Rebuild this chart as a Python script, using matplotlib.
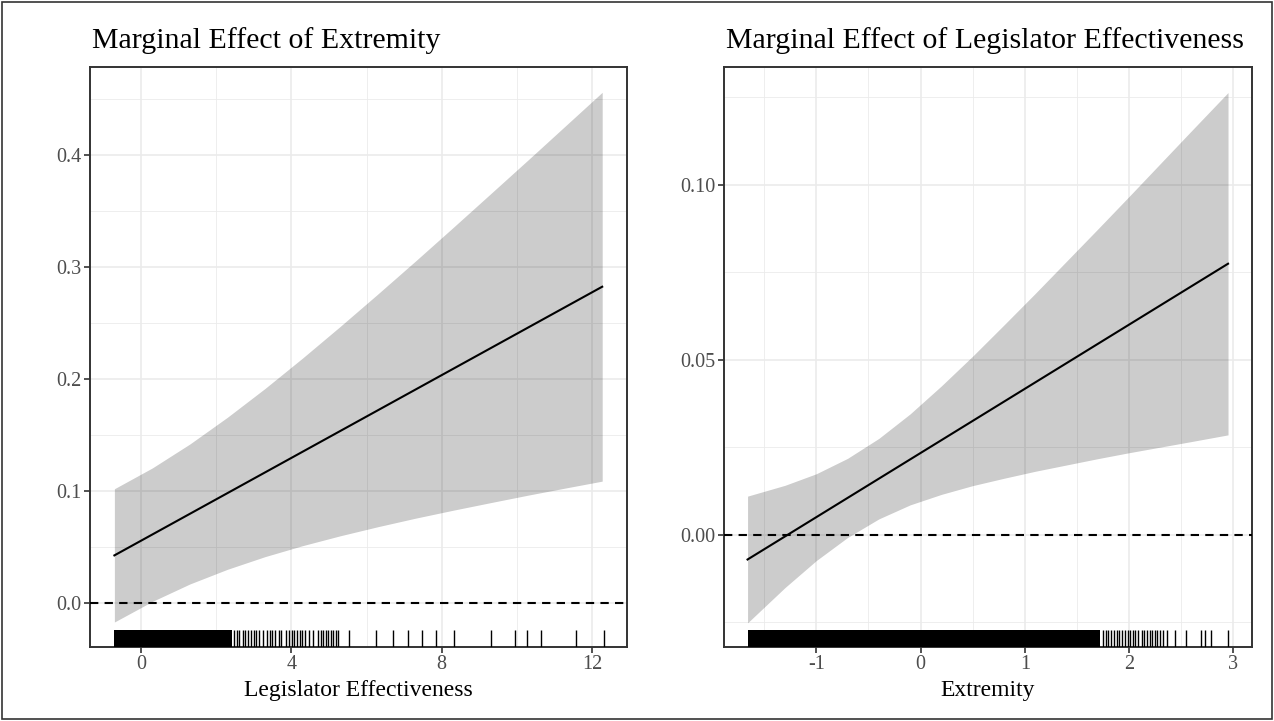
"""
Marginal effects plots (two panels) with rug of observed values
"""

import numpy as np
import matplotlib
matplotlib.use('Agg')
import matplotlib.pyplot as plt
from matplotlib.patches import Rectangle
from matplotlib.ticker import MultipleLocator

plt.rcParams['font.family'] = ['Liberation Serif', 'DejaVu Serif']

# ---- left panel: marginal effect of extremity over legislator effectiveness
le_x = [-0.71, 0.3, 1.3, 2.3, 3.3, 4.3, 5.3, 6.3, 7.3, 8.3, 9.3, 10.3, 11.3, 12.27]
le_upper = [0.102, 0.1206, 0.142, 0.1659, 0.1916, 0.2188, 0.247, 0.2759,
            0.3053, 0.3352, 0.3654, 0.3957, 0.4263, 0.456]
le_lower = [-0.017, 0.0014, 0.017, 0.0301, 0.0414, 0.0512, 0.060, 0.0681,
            0.0757, 0.0828, 0.0896, 0.0963, 0.1027, 0.1088]
le_line_x = [-0.71, 12.27]
le_line_y = [0.0425, 0.2824]

# rug: solid black span(s), then individual ticks
le_rug_spans = [(-0.71, 2.42)]
le_rug_ticks = [2.475, 2.547, 2.608, 2.699, 2.76, 2.832, 2.913, 2.995, 3.066,
                3.148, 3.239, 3.341, 3.423, 3.494, 3.565, 3.667, 3.728, 3.85,
                3.932, 4.003, 4.064, 4.136, 4.217, 4.289, 4.36, 4.462, 4.584,
                4.706, 4.777, 4.839, 4.91, 4.981, 5.042, 5.114, 5.195, 5.246,
                5.54, 6.26, 6.71, 7.09, 7.47, 7.84, 8.33, 9.30, 9.96, 10.27,
                10.65, 11.57, 12.31]

# ---- right panel: marginal effect of legislator effectiveness over extremity
ex_x = [-1.66, -1.3, -1.0, -0.7, -0.4, -0.1, 0.2, 0.5, 0.8, 1.1, 1.4, 1.7,
        2.0, 2.3, 2.6, 2.95]
ex_upper = [0.0111, 0.0142, 0.0175, 0.0219, 0.0276, 0.0346, 0.0426, 0.0511,
            0.060, 0.069, 0.0782, 0.0874, 0.0967, 0.1061, 0.1155, 0.1264]
ex_lower = [-0.0251, -0.015, -0.0073, -0.0007, 0.0046, 0.0086, 0.0116, 0.0141,
            0.0162, 0.0182, 0.020, 0.0218, 0.0235, 0.0251, 0.0267, 0.0286]
ex_line_x = [-1.66, 2.95]
ex_line_y = [-0.007, 0.0775]

ex_rug_spans = [(-1.66, 1.72)]
ex_rug_ticks = [1.75, 1.78, 1.80, 1.83, 1.86, 1.88, 1.90, 1.93, 1.96, 1.99,
                2.01, 2.04, 2.06, 2.09, 2.12, 2.14, 2.17, 2.20, 2.22, 2.25,
                2.27, 2.30, 2.33, 2.36, 2.44, 2.55, 2.69, 2.73, 2.79, 2.95]

W, H = 1274, 721
fig = plt.figure(figsize=(W / 100, H / 100), dpi=100)

grid_col = '#EBEBEB'
border_col = '#333333'
tick_col = '#4D4D4D'
fs_title = 21.5
fs_lab = 17
fs_tick = 14.5
rug_len = 0.03


def panel(rect, x, upper, lower, lx, ly, spans, ticks, xlim, ylim,
          xmaj, xmin, ymaj, ymin, yfmt, xlabel, title):
    ax = fig.add_axes(rect)
    ax.set_xlim(xlim)
    ax.set_ylim(ylim)
    ax.xaxis.set_major_locator(MultipleLocator(xmaj))
    ax.xaxis.set_minor_locator(MultipleLocator(xmin))
    ax.yaxis.set_major_locator(MultipleLocator(ymaj))
    ax.yaxis.set_minor_locator(MultipleLocator(ymin))
    ax.grid(which='major', color=grid_col, linewidth=1.2, zorder=0)
    ax.grid(which='minor', color=grid_col, linewidth=0.6, zorder=0)
    ax.set_axisbelow(True)

    ax.fill_between(x, lower, upper, color='black', alpha=0.2, linewidth=0, zorder=2)
    ax.plot(lx, ly, color='black', linewidth=1.5, zorder=3)
    ax.axhline(0, color='black', linewidth=1.5, linestyle=(0, (4, 3)), zorder=3)

    trans = ax.get_xaxis_transform()
    for s0, s1 in spans:
        ax.add_patch(Rectangle((s0, 0), s1 - s0, rug_len, transform=trans,
                               facecolor='black', edgecolor='none', zorder=3))
    ax.vlines(ticks, 0, rug_len, transform=trans, color='black',
              linewidth=1.0, zorder=3)

    ax.yaxis.set_major_formatter(plt.FormatStrFormatter(yfmt))
    ax.xaxis.set_major_formatter(plt.FuncFormatter(lambda v, p: '%g' % v))
    ax.tick_params(which='major', length=4, width=1.2, color=border_col,
                   labelcolor=tick_col, labelsize=fs_tick, pad=2)
    ax.tick_params(which='minor', length=0)
    for sp in ax.spines.values():
        sp.set_color(border_col)
        sp.set_linewidth(1.4)
    ax.set_xlabel(xlabel, fontsize=fs_lab, labelpad=4)
    fig.text(rect[0] + 2 / W, 1 - 48 / H, title, fontsize=fs_title, ha='left',
             va='baseline')
    return ax


def frac(x0, y0, x1, y1):
    return [x0 / W, 1 - y1 / H, (x1 - x0) / W, (y1 - y0) / H]


panel(frac(90, 67, 627, 647), le_x, le_upper, le_lower, le_line_x, le_line_y,
      le_rug_spans, le_rug_ticks, (-1.359, 12.93), (-0.0393, 0.4786),
      4, 2, 0.1, 0.05, '%.1f', 'Legislator Effectiveness',
      'Marginal Effect of Extremity')

panel(frac(724, 67, 1252, 647), ex_x, ex_upper, ex_lower, ex_line_x, ex_line_y,
      ex_rug_spans, ex_rug_ticks, (-1.886, 3.18), (-0.032, 0.1337),
      1, 0.5, 0.05, 0.025, '%.2f', 'Extremity',
      'Marginal Effect of Legislator Effectiveness')

# outer frame around the whole figure
fig.add_artist(Rectangle((2 / W, 2 / H), 1 - 4 / W, 1 - 4 / H,
                         transform=fig.transFigure, fill=False,
                         edgecolor='#333333', linewidth=1.2))

fig.savefig('out.png', dpi=100)
